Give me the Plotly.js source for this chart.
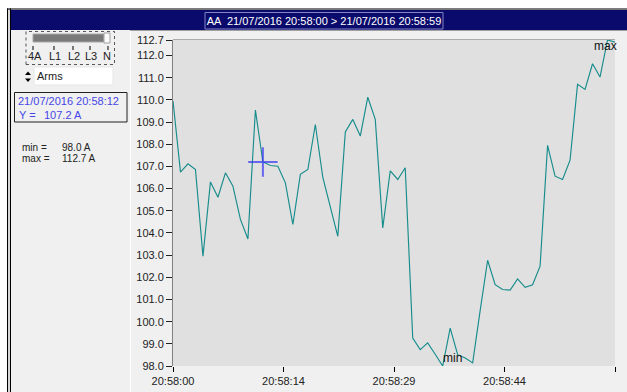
<!DOCTYPE html>
<html>
<head>
<meta charset="utf-8">
<script src="https://cdn.plot.ly/plotly-3.0.1.min.js"></script>
<style>
  html, body { margin: 0; padding: 0; background: #ffffff; overflow: hidden; }
  #chart { width: 627px; height: 392px; }
</style>
</head>
<body>
<div id="chart"></div>
<script>
// Sample time in seconds after 20:58:00
const seconds = [0, 1, 2, 3, 4, 5, 6, 7, 8, 9, 10, 11, 12, 13, 14, 15, 16, 17, 18, 19,
                 20, 21, 22, 23, 24, 25, 26, 27, 28, 29, 30, 31, 32, 33, 34, 35, 36, 37, 38, 39,
                 40, 41, 42, 43, 44, 45, 46, 47, 48, 49, 50, 51, 52, 53, 54, 55, 56, 57, 58, 59];

// RMS current of the selected channel, amperes
const currentA = [109.95, 106.74, 107.12, 106.86, 102.95, 106.30, 105.61, 106.71, 106.11, 104.61,
                  103.73, 109.54, 107.20, 107.04, 107.01, 106.26, 104.38, 106.64, 106.86, 108.89,
                  106.50, 105.20, 103.85, 108.55, 109.12, 108.37, 110.12, 109.12, 104.23, 106.80,
                  106.41, 106.94, 99.26, 98.74, 99.04, 98.53, 98.00, 99.71, 98.51, 98.36,
                  98.14, 100.50, 102.77, 101.67, 101.45, 101.42, 101.93, 101.55, 101.66, 102.50,
                  107.95, 106.56, 106.41, 107.28, 110.70, 110.47, 111.63, 111.03, 112.70, 112.60];

const xTickVals = [0, 14.75, 29.5, 44.25, 59];
const xTickLabels = ['20:58:00', '20:58:14', '20:58:29', '20:58:44', '20:58:59'];
const yTickVals = [98, 99, 100, 101, 102, 103, 104, 105, 106, 107, 108, 109, 110, 111, 112, 112.7];

const titleText = 'AA  21/07/2016 20:58:00 > 21/07/2016 20:58:59';
const channelLabels = ['4A', 'L1', 'L2', 'L3', 'N'];
const quantityLabel = 'Arms';
const cursorIndex = 12;
const cursorStamp = '21/07/2016 20:58:12';
const unit = 'A';

// ---- derived values ----
const yMin = Math.min(...currentA);
const yMax = Math.max(...currentA);
const iMin = currentA.indexOf(yMin);
const iMax = currentA.indexOf(yMax);

// ---- pixel helpers (plot box in page pixels) ----
const PL = 173, PR = 615, PT = 40, PB = 366;
const px = x => (x - PL) / (PR - PL);
const py = y => (PB - y) / (PB - PT);

function rect(x0, y0, x1, y1, fill, lineColor, lineWidth, dash) {
  return {
    type: 'rect', xref: 'paper', yref: 'paper',
    x0: px(x0), x1: px(x1), y0: py(y1), y1: py(y0),
    fillcolor: fill || 'rgba(0,0,0,0)',
    line: { color: lineColor || 'rgba(0,0,0,0)', width: lineColor ? (lineWidth || 1) : 0, dash: dash || 'solid' },
    layer: 'above'
  };
}
function seg(x0, y0, x1, y1, color, width) {
  return {
    type: 'line', xref: 'paper', yref: 'paper',
    x0: px(x0), x1: px(x1), y0: py(y0), y1: py(y1),
    line: { color: color, width: width || 1 }, layer: 'above'
  };
}
function poly(points, fill) {
  const d = points.map((p, i) => (i ? 'L' : 'M') + px(p[0]) + ',' + py(p[1])).join(' ') + ' Z';
  return { type: 'path', xref: 'paper', yref: 'paper', path: d, fillcolor: fill, line: { width: 0 }, layer: 'above' };
}
function label(x, y, text, opts) {
  opts = opts || {};
  return {
    xref: 'paper', yref: 'paper', x: px(x), y: py(y), text: text, showarrow: false,
    xanchor: opts.anchor || 'left', yanchor: 'middle', borderpad: 0,
    font: { family: 'Liberation Sans, Arial, sans-serif', size: opts.size || 11, color: opts.color || '#222222' }
  };
}

const BLUE = '#4646e6';
const NAVY = '#0a0a6c';

const shapes = [
  // window frame
  rect(0, 0, 627, 8.5, '#ffffff'),
  rect(0, 0, 7, 392, '#ffffff'),
  rect(7, 8.5, 11, 392, '#d8d8d8'),
  seg(7.5, 8.5, 7.5, 392, '#000000', 1),
  seg(10.5, 8.5, 10.5, 392, '#000000', 1),
  seg(7, 9, 627, 9, '#000000', 1),
  rect(11, 10, 627, 30, NAVY),
  rect(205, 12.5, 443, 29, null, '#8585c4', 1),
  seg(130, 30.5, 627, 30.5, '#a0a0a0', 1),
  seg(130.5, 31, 130.5, 392, '#ffffff', 1),
  // channel selector
  rect(26, 31.5, 114.5, 64.5, null, '#555555', 1, 'dot'),
  rect(33, 34, 104, 42, '#7a7a7a', '#a8a8a8', 1),
  rect(104, 33, 110, 43, '#fbfbfb', '#a0a0a0', 1),
  seg(33, 46, 33, 50, '#000', 1),
  seg(54, 46, 54, 50, '#000', 1),
  seg(73, 46, 73, 50, '#000', 1),
  seg(90, 46, 90, 50, '#000', 1),
  seg(108, 46, 108, 50, '#000', 1),
  // quantity spinner
  rect(34, 67, 113, 85, '#ffffff', '#e6e6e6', 1),
  poly([[25, 75], [31, 75], [28, 71.5]], '#000000'),
  poly([[25, 78.5], [31, 78.5], [28, 82]], '#000000'),
  // cursor info box
  rect(14.5, 92.5, 127, 122, null, '#202020', 1),
  // top edge of the plot box
  seg(PL, 39.5, PR, 39.5, '#ababab', 1)
];

const annotations = [
  label(35, 56, channelLabels[0], { anchor: 'center' }),
  label(55, 56, channelLabels[1], { anchor: 'center' }),
  label(73.5, 56, channelLabels[2], { anchor: 'center' }),
  label(91, 56, channelLabels[3], { anchor: 'center' }),
  label(107, 56, channelLabels[4], { anchor: 'center' }),
  label(36, 76, quantityLabel),
  label(17, 101, cursorStamp, { color: BLUE }),
  label(18, 115, 'Y =', { color: BLUE }),
  label(43, 115, currentA[cursorIndex].toFixed(1) + ' ' + unit, { color: BLUE }),
  label(21, 147, 'min =', { size: 10 }),
  label(61, 147, yMin.toFixed(1) + ' ' + unit, { size: 10 }),
  label(21, 158.5, 'max =', { size: 10 }),
  label(61, 158.5, yMax.toFixed(1) + ' ' + unit, { size: 10 }),
  {
    x: seconds[iMin], y: yMin, xref: 'x', yref: 'y', text: 'min', showarrow: false,
    xanchor: 'left', yanchor: 'bottom', xshift: -2, yshift: -1,
    font: { family: 'Liberation Sans, Arial, sans-serif', size: 12, color: '#111' }
  },
  {
    x: seconds[iMax], y: yMax, xref: 'x', yref: 'y', text: 'max', showarrow: false,
    xanchor: 'left', yanchor: 'top', xshift: -16, yshift: 3,
    font: { family: 'Liberation Sans, Arial, sans-serif', size: 12, color: '#111' }
  }
];

const traces = [
  {
    x: seconds, y: currentA, type: 'scatter', mode: 'lines',
    line: { color: '#178c8c', width: 1.15 }, hoverinfo: 'skip', cliponaxis: true
  },
  {
    x: [seconds[cursorIndex]], y: [currentA[cursorIndex]], type: 'scatter', mode: 'markers',
    marker: { symbol: 'cross-thin', size: 21, line: { color: 'rgba(50,50,245,0.7)', width: 2 } },
    hoverinfo: 'skip'
  }
];

const layout = {
  width: 627, height: 392,
  margin: { l: PL, r: 627 - PR, t: PT, b: 392 - PB, pad: 0 },
  paper_bgcolor: '#f0f0f0',
  plot_bgcolor: '#e0e0e0',
  showlegend: false,
  title: {
    text: titleText, x: 324 / 627, xanchor: 'center', xref: 'container',
    y: 1 - 21 / 392, yanchor: 'middle', yref: 'container',
    font: { family: 'Liberation Sans, Arial, sans-serif', size: 11, color: '#ffffff' }
  },
  xaxis: {
    range: [0, 59], tickvals: xTickVals, ticktext: xTickLabels,
    ticks: 'outside', ticklen: 5, tickcolor: '#000', tickwidth: 1,
    showgrid: false, zeroline: false, showline: false, automargin: false,
    tickfont: { family: 'Liberation Sans, Arial, sans-serif', size: 11, color: '#222' }
  },
  yaxis: {
    range: [98, 112.7], tickvals: yTickVals, ticktext: yTickVals.map(v => v.toFixed(1)),
    ticks: 'outside', ticklen: 6, tickcolor: '#222', tickwidth: 1,
    showgrid: false, zeroline: false, showline: true, linecolor: '#808080', linewidth: 1,
    automargin: false,
    tickfont: { family: 'Liberation Sans, Arial, sans-serif', size: 11, color: '#222' }
  },
  shapes: shapes,
  annotations: annotations
};

Plotly.newPlot('chart', traces, layout, { displayModeBar: false, staticPlot: true });
</script>
</body>
</html>
